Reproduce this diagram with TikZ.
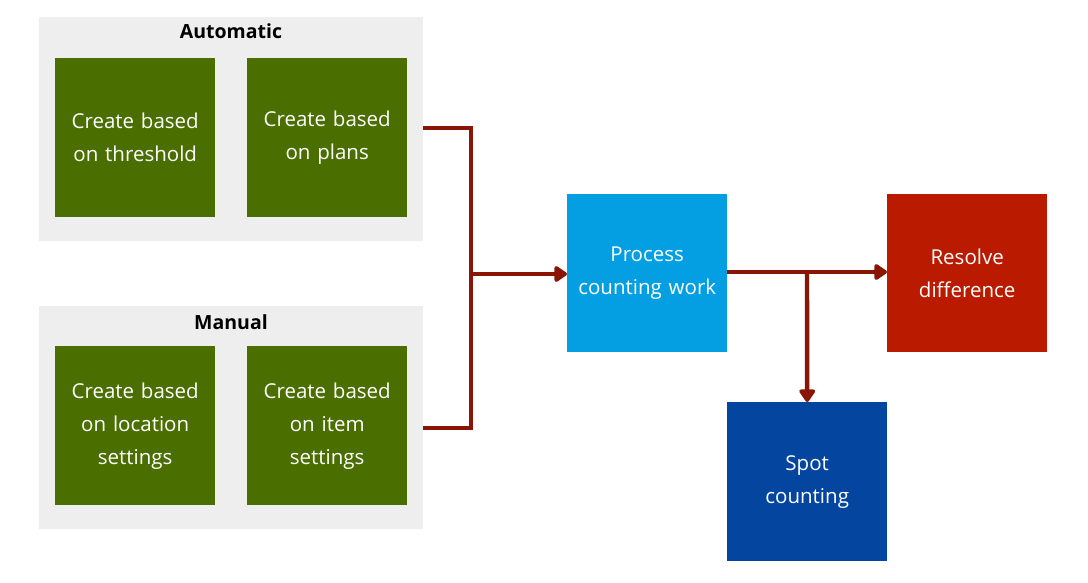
\documentclass[tikz,border=0pt]{standalone}
\usepackage{fontspec}
\setmainfont{Open Sans}
\usetikzlibrary{arrows.meta}
\definecolor{panelgray}{HTML}{EEEEEE}
\definecolor{grn}{HTML}{4A6E00}
\definecolor{procblue}{HTML}{049FE2}
\definecolor{resred}{HTML}{BA1B00}
\definecolor{spotblue}{HTML}{0445A0}
\definecolor{conn}{HTML}{8B1505}
\begin{document}
\begin{tikzpicture}[x=1pt,y=-1pt,
  panel/.style={fill=panelgray, draw=none, minimum width=384pt, anchor=north west, inner sep=0pt},
  box/.style={draw=none, minimum width=160pt, minimum height=159pt, text width=158pt, align=center, text=white, font=\fontsize{20.5}{33}\selectfont, anchor=north west, inner sep=0pt},
  title/.style={font=\bfseries\fontsize{19.5}{22}\selectfont, anchor=center},
  link/.style={draw=conn, line width=4.4pt},
  arr/.style={link, -{Triangle[length=14pt,width=18pt,round]}}]
\useasboundingbox (0,0) rectangle (1088,583);
% panels
\node[panel, minimum height=224pt] (auto) at (39,17) {};
\node[panel, minimum height=223pt] (manual) at (39,306) {};
\node[title] (autot) at (231,31) {Automatic};
\node[title] (mant) at (231,322) {Manual};
% green boxes
\node[box, fill=grn] (thr) at (55,58) {Create based\\on threshold};
\node[box, fill=grn] (plans) at (247,58) {Create based\\on plans};
\node[box, fill=grn] (loc) at (55,346) {Create based\\on location\\settings};
\node[box, fill=grn] (item) at (247,346) {Create based\\on item\\settings};
% process boxes
\node[box, fill=procblue, minimum height=158pt] (proc) at (567,194) {Process\\counting work};
\node[box, fill=resred, minimum height=158pt] (res) at (887,194) {Resolve\\difference};
\node[box, fill=spotblue] (spot) at (727,402) {Spot\\counting};
% connectors
\coordinate (ja) at (423,128);
\coordinate (jb) at (423,428);
\coordinate (jt) at (471,128);
\coordinate (jbot) at (471,428);
\coordinate (jm) at (471,274);
\coordinate (br) at (807,272);
\draw[link] (ja) -- (jt) -- (jbot) -- (jb);
\draw[arr] (jm) -- (jm -| proc.west);
\draw[arr] (proc.east |- br) -- (res.west |- br);
\draw[arr] (br) -- (spot.north);
\end{tikzpicture}
\end{document}
